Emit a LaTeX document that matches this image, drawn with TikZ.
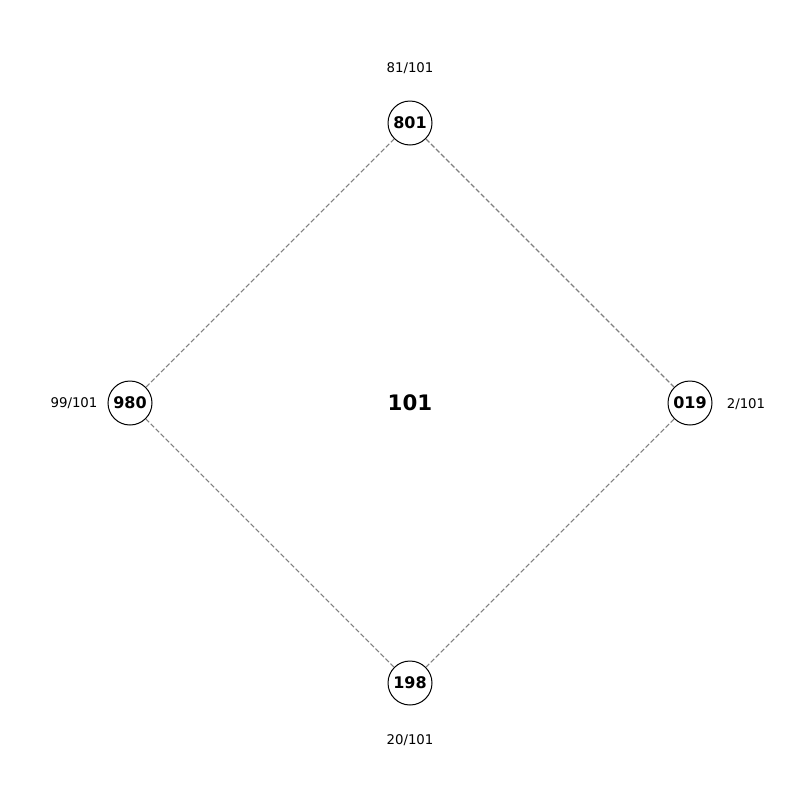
\documentclass[tikz,border=0pt]{standalone}
\usepackage{fontspec}
\setmainfont{DejaVu Sans}
\begin{document}
\begin{tikzpicture}[x=0.75pt,y=-0.75pt,
  vnode/.style={circle,draw=black,line width=0.75pt,fill=white,minimum size=33pt,inner sep=0pt,font=\fontsize{12}{14}\selectfont\bfseries},
  lbl/.style={font=\fontsize{10}{12}\selectfont,inner sep=0pt},
  edge/.style={draw=gray,line width=0.8pt,dash pattern=on 3.7pt off 1.6pt}]
\useasboundingbox (0,0) rectangle (800,800);
\node[vnode] (a) at (410,123) {801};
\node[vnode] (b) at (690,403) {019};
\node[vnode] (c) at (410,683) {198};
\node[vnode] (d) at (130,403) {980};
\draw[edge] (a) -- (b);
\draw[edge] (b) -- (c);
\draw[edge] (c) -- (d);
\draw[edge] (d) -- (a);
\node[lbl] (la) at (410,68) {81/101};
\node[lbl] (lb) at (746,404) {2/101};
\node[lbl] (lc) at (410,740) {20/101};
\node[lbl] (ld) at (74,403) {99/101};
\node[font=\fontsize{16}{19}\selectfont\bfseries] (ctr) at (410,403) {101};
\end{tikzpicture}
\end{document}
